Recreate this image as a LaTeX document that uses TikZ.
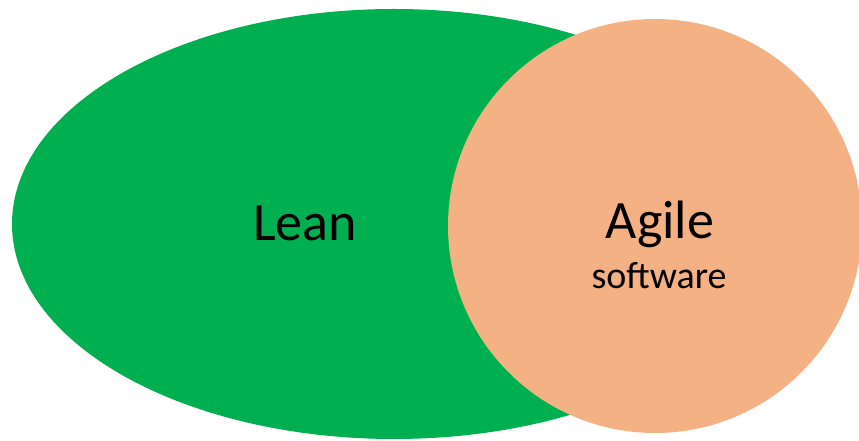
\documentclass[tikz,border=0pt]{standalone}
\usepackage{fontspec}
\setmainfont{Carlito}
\usepackage{xcolor}
\usepackage{tikz}
\usetikzlibrary{shapes.geometric}
\definecolor{leangreen}{HTML}{00B050}
\definecolor{agileorange}{HTML}{F4B183}

\begin{document}
\begin{tikzpicture}[x=1pt, y=1pt]
    \useasboundingbox (0,0) rectangle (859,441);
    \clip (0,0) rectangle (859,441);

    % Lean ellipse
    \node[ellipse, fill=leangreen, inner sep=0pt, minimum width=764pt, minimum height=430pt] (leanset) at (394,217) {};

    % Agile circle
    \node[circle, fill=agileorange, inner sep=0pt, minimum size=414pt] (agileset) at (655,215) {};

    % Labels
    \node[anchor=base, inner sep=0pt, font=\fontsize{54}{60}\selectfont] (leanlabel) at (305,200) {Lean};
    \node[anchor=base, inner sep=0pt, font=\fontsize{54}{60}\selectfont] (agilelabel) at (660,202) {Agile};
    \node[anchor=base, inner sep=0pt, font=\fontsize{38}{44}\selectfont] (softlabel) at (659,152) {software};
\end{tikzpicture}
\end{document}
